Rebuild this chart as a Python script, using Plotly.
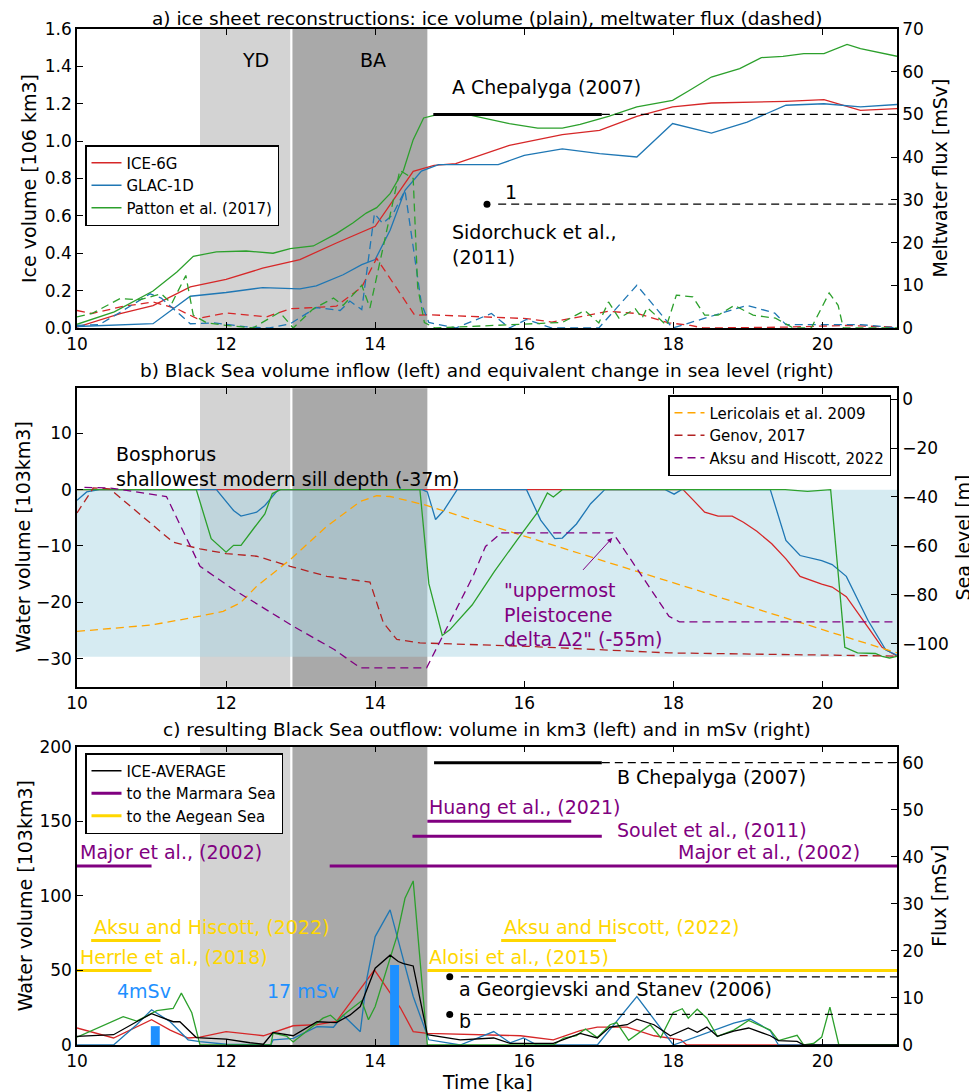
import plotly.graph_objects as go

# ---------------- DATA ----------------
# Panel a: ice volume (10^6 km3, left axis)
ice6g_vol_x = [10.0, 10.58, 11.02, 11.52, 12.0, 12.49, 12.99, 13.48, 14.0, 14.51, 14.79, 15.08, 15.8, 16.51, 17.01, 17.51, 17.99, 18.51, 19.51, 20.02, 20.51, 21.0]
ice6g_vol = [0.005, 0.077, 0.12, 0.22, 0.26, 0.32, 0.366, 0.455, 0.544, 0.838, 0.87, 0.88, 0.977, 1.035, 1.058, 1.133, 1.183, 1.204, 1.213, 1.222, 1.165, 1.174]
glac_vol_x = [10.0, 11.02, 11.52, 12.0, 12.49, 12.99, 13.21, 13.57, 13.82, 14.0, 14.2, 14.4, 14.62, 14.85, 15.08, 15.65, 16.0, 16.51, 17.01, 17.51, 17.99, 18.51, 18.99, 19.51, 20.02, 20.51, 21.0]
glac_vol = [0.008, 0.023, 0.17, 0.19, 0.216, 0.209, 0.225, 0.285, 0.339, 0.366, 0.523, 0.737, 0.84, 0.874, 0.874, 0.874, 0.924, 0.958, 0.933, 0.915, 1.094, 1.043, 1.102, 1.192, 1.2, 1.183, 1.196]
patton_vol_x = [10.0, 10.5, 11.02, 11.34, 11.56, 11.87, 12.27, 12.63, 12.86, 13.17, 13.48, 13.7, 13.88, 14.02, 14.2, 14.38, 14.51, 14.65, 14.79, 14.92, 15.18, 15.56, 15.8, 16.18, 16.51, 16.75, 17.13, 17.51, 17.99, 18.23, 18.51, 18.89, 19.18, 19.47, 19.75, 20.02, 20.33, 20.51, 21.0]
patton_vol = [0.02, 0.086, 0.198, 0.3, 0.384, 0.407, 0.412, 0.40, 0.425, 0.439, 0.505, 0.562, 0.615, 0.644, 0.719, 0.844, 1.008, 1.124, 1.138, 1.147, 1.147, 1.117, 1.094, 1.07, 1.07, 1.09, 1.133, 1.183, 1.218, 1.275, 1.343, 1.388, 1.447, 1.454, 1.468, 1.468, 1.518, 1.495, 1.454]

# Panel a: meltwater flux (mSv, right axis)
ice6g_flux_x = [10.0, 10.2, 10.6, 11.02, 11.34, 11.61, 12.0, 12.54, 12.86, 13.48, 13.82, 14.02, 14.53, 14.7, 16.03, 16.37, 17.13, 17.51, 17.94, 18.23, 18.4, 19.5, 20.33, 21.0]
ice6g_flux = [4.1, 3.4, 5.0, 6.1, 4.5, 2.2, 3.5, 2.6, 4.5, 5.1, 9.6, 16.3, 3.0, 3.1, 2.2, 1.4, 3.9, 3.4, 1.2, 0.6, 0.0, 0.2, 0.6, 0.2]
glac_flux_x = [10.0, 10.3, 10.58, 10.98, 11.13, 11.52, 11.84, 12.25, 12.58, 12.86, 13.21, 13.53, 13.66, 13.82, 13.99, 14.1, 14.23, 14.4, 14.62, 14.72, 15.08, 15.56, 15.8, 16.03, 16.37, 17.0, 17.51, 17.99, 18.99, 19.36, 19.51, 20.51, 21.0]
glac_flux = [0.6, 0.8, 3.7, 8.0, 7.0, 1.0, 1.2, 0.3, 0.0, 1.0, 4.8, 4.1, 6.3, 4.3, 26.8, 24.5, 26.4, 32.2, 5.7, 1.3, 0.0, 3.4, 0.0, 2.0, 0.0, 0.0, 10.0, 0.0, 5.3, 3.5, 0.8, 0.8, 0.0]
patton_flux_x = [10.0, 10.2, 10.58, 10.84, 11.13, 11.27, 11.46, 11.56, 11.74, 12.0, 12.36, 12.72, 12.9, 13.17, 13.44, 13.57, 13.82, 13.93, 14.33, 14.51, 14.57, 14.66, 14.8, 16.51, 16.81, 17.0, 17.13, 17.27, 17.49, 17.58, 17.65, 17.91, 18.04, 18.26, 18.42, 18.6, 18.82, 19.07, 19.37, 19.61, 19.85, 20.09, 20.21, 20.28, 21.0]
patton_flux = [2.6, 3.4, 6.9, 6.6, 8.0, 5.7, 12.3, 3.0, 1.2, 0.6, 0.0, 3.7, 0.0, 4.5, 7.0, 5.3, 10.0, 4.7, 36.9, 35.0, 9.6, 1.3, 0.0, 1.3, 4.1, 1.2, 6.1, 2.3, 4.5, 2.3, 4.8, 0.6, 7.7, 7.3, 3.0, 3.0, 5.3, 3.0, 2.3, 0.0, 0.0, 8.2, 5.3, 0.0, 0.0]

# Panel a reference lines (mSv)
chep_a_level = 50.0
chep_a_solid_x = [14.78, 17.04]
chep_a_dash_x = [17.04, 21.0]
sidor_level = 29.0
sidor_point_x = [15.5]
sidor_dash_x = [15.65, 21.0]

# Panel b: inflow volume (10^3 km3, left axis)
ice6g_b_x = [10.0, 18.13, 18.27, 18.42, 18.6, 18.79, 18.94, 19.12, 19.32, 19.51, 19.7, 19.99, 20.13, 20.32, 20.61, 20.8, 21.0]
ice6g_b = [0, 0, -1.9, -4.0, -4.7, -4.7, -5.8, -7.4, -9.6, -12.3, -15.4, -16.8, -17.3, -19.0, -24.4, -28.0, -29.6]
glac_b_x = [10.0, 10.13, 10.3, 11.87, 12.1, 12.2, 12.41, 12.52, 12.7, 14.63, 14.7, 14.81, 14.92, 15.1, 16.03, 16.22, 16.41, 16.51, 16.7, 16.89, 17.08, 17.89, 18.01, 18.11, 19.3, 19.51, 19.7, 19.99, 20.13, 20.32, 20.61, 20.85, 21.0]
glac_b = [-1.9, -0.4, 0, 0, -3.7, -4.7, -4.0, -2.8, 0, 0, -0.4, -5.3, -3.7, 0, 0, -5.4, -8.7, -8.6, -6.1, -2.5, 0, 0, -0.8, 0, 0, -9.0, -11.7, -12.6, -13.3, -15.4, -23.2, -28.5, -29.4]
patton_b_x = [10.0, 11.6, 11.8, 12.0, 12.1, 12.2, 12.37, 12.52, 12.62, 12.73, 14.6, 14.72, 14.9, 15.0, 15.3, 15.6, 15.9, 16.18, 16.31, 16.39, 16.51, 19.5, 19.8, 20.11, 20.3, 20.47, 20.71, 20.8, 20.9, 21.0]
patton_b = [0, 0, -8.7, -11.1, -9.9, -9.9, -6.9, -4.3, -0.7, 0, 0, -16.7, -25.9, -24.9, -20.5, -14.5, -9.0, -4.0, -0.6, -1.3, 0, 0, -0.3, 0, -28.0, -29.0, -29.1, -29.6, -29.9, -29.6]

# Panel b: sea level reconstructions (m, right axis)
leric_x = [10.0, 11.0, 11.65, 11.96, 12.19, 12.41, 12.86, 13.35, 13.8, 14.02, 14.2, 14.65, 15.5, 16.5, 17.5, 18.5, 19.5, 20.5, 21.0]
leric = [-94.9, -92.3, -88.7, -86.7, -83.3, -76.5, -65.6, -52.0, -41.8, -39.5, -39.8, -43.1, -51.2, -60.8, -70.3, -79.9, -89.4, -99.0, -103.7]
genov_x = [10.0, 10.22, 10.44, 11.29, 11.65, 12.0, 12.41, 12.86, 13.35, 13.93, 14.11, 14.29, 14.6, 15.57, 16.03, 17.94, 21.0]
genov = [-46.5, -36.3, -36.7, -58.5, -61.2, -63.1, -64.2, -68.3, -72.4, -74.8, -91.4, -98.2, -99.6, -100.7, -101.0, -103.7, -105.0]
aksu_x = [10.1, 10.44, 11.2, 11.65, 12.1, 12.9, 13.45, 13.8, 14.69, 14.79, 15.32, 15.48, 15.69, 17.19, 17.94, 18.08, 21.0]
aksu = [-36.1, -36.3, -39.8, -68.3, -77.8, -92.8, -102.3, -109.8, -109.8, -103.8, -71.9, -60.2, -54.7, -54.7, -88.7, -91.0, -91.0]
basin_top = 0.0
basin_bottom = -29.7

# Panel c: outflow volume (10^3 km3, left axis)
red_c_x = [10.0, 10.49, 11.0, 11.25, 11.49, 11.65, 12.0, 12.5, 12.9, 13.22, 13.48, 13.99, 14.34, 14.51, 14.7, 15.95, 16.39, 16.75, 16.98, 17.38, 17.74, 18.1, 18.18, 21.0]
red_c = [11.4, 4.7, 17, 10, 4.7, 5.3, 9, 6.2, 12.9, 13.6, 15.8, 50.4, 24.8, 9, 7.8, 6.2, 3.5, 9.6, 12, 12, 6.2, 3.5, 0, 0]
blue_c_x = [10.0, 10.49, 10.8, 11.0, 11.25, 11.49, 11.65, 12.0, 12.6, 12.63, 12.9, 13.22, 13.44, 13.57, 13.8, 13.89, 14.0, 14.2, 14.51, 14.72, 15.14, 15.59, 15.81, 15.99, 16.17, 16.98, 17.51, 18.0, 18.81, 19.03, 19.3, 19.41, 21.0]
blue_c = [0, 0, 13.6, 23.6, 15.6, 3.5, 2.3, 0.5, 0, 3.4, 4.5, 12.3, 11.9, 20, 8.9, 45, 72.7, 90.6, 32.5, 3.5, 0, 9, 1.5, 4.7, 0, 0, 32.5, 0, 14.7, 17.4, 9.6, 0, 0]
green_c_x = [10.0, 10.62, 10.8, 11.07, 11.29, 11.4, 11.54, 11.65, 12.6, 12.63, 12.81, 12.9, 13.3, 13.4, 13.49, 13.62, 13.82, 13.91, 14.0, 14.29, 14.4, 14.51, 14.7, 16.39, 16.53, 16.7, 16.82, 16.98, 17.15, 17.24, 17.4, 17.69, 17.83, 18.0, 18.12, 18.2, 18.32, 18.45, 18.59, 18.81, 19.01, 19.3, 19.41, 19.66, 19.75, 19.88, 19.99, 20.1, 20.22, 21.0]
green_c = [5.3, 19, 16, 23, 24.5, 34.8, 21.6, 0, 0, 8, 6, 2, 18, 20, 16, 22, 29.6, 16.9, 25.8, 72.7, 98.4, 110, 0, 0, 4.7, 6.3, 10.7, 5, 13.6, 15, 3.1, 13.6, 5, 21.8, 24.3, 18, 24, 18, 5.8, 10, 16.5, 10, 3, 6.5, 0, 1, 5.3, 25.4, 0, 0]
avg_c_x = [10.0, 10.49, 10.8, 11.0, 11.29, 11.38, 11.6, 12.0, 12.32, 12.5, 12.63, 12.9, 13.22, 13.48, 13.66, 13.8, 14.0, 14.2, 14.31, 14.38, 14.51, 14.7, 15.14, 15.59, 15.81, 16.39, 16.75, 16.98, 17.15, 17.38, 17.51, 17.74, 17.96, 18.2, 18.32, 18.45, 18.59, 18.81, 19.01, 19.3, 19.41, 19.66, 19.75, 21.0]
avg_c = [5.8, 6.9, 15.6, 21, 15.6, 15.6, 5, 4, 1.5, 0.5, 8.4, 6.2, 15.6, 15, 20, 25.8, 51.5, 60.2, 56, 54.6, 53, 7, 3.5, 4.7, 1.1, 1.1, 7.8, 4.7, 12, 13.6, 17.3, 13.6, 6.2, 11.4, 8.5, 12, 5.8, 9.3, 11.4, 6.2, 3, 2.4, 0, 0]

# Panel c: published outflow estimates (10^3 km3)
marmara_names = ["Major et al., (2002)", "Major et al., (2002)", "Huang et al., (2021)", "Soulet et al., (2011)"]
marmara_x0 = [10.0, 13.39, 14.7, 14.5]
marmara_x1 = [11.0, 21.0, 16.63, 17.04]
marmara_level = [120, 120, 150, 140]
aegean_names = ["Herrle et al., (2018)", "Aksu and Hiscott, (2022)", "Aksu and Hiscott, (2022)", "Aloisi et al., (2015)"]
aegean_x0 = [10.0, 10.19, 15.69, 14.7]
aegean_x1 = [11.0, 11.12, 17.23, 21.0]
aegean_level = [50, 70, 70, 50]

# Panel c: flux references (mSv, right axis)
chep_c_level = 60.0
chep_c_solid_x = [14.79, 17.04]
chep_c_dash_x = [17.04, 21.0]
georg_levels = [14.5, 6.5]
georg_point_x = [15.0, 15.0]
georg_dash_x = [15.15, 21.0]
pulse_x = [11.05, 14.26]
pulse_msv = [4, 17]

# Climate periods
yd_span = [11.65, 12.86]
ba_span = [12.89, 14.7]

# ---------------- STYLE ----------------
RED = "#d62728"
BLUE = "#1f77b4"
GREEN = "#2ca02c"
PURPLE = "#800080"
GOLD = "#ffd700"
FONT = "DejaVu Sans"
FS_TICK = 17
FS_TEXT = 19
FS_TITLE = 18.5
FS_LEG = 15
DASH = "8px,5px"

fig = go.Figure()

def line(x, y, xa, ya, color, width=1.3, dash=None, name=None, legend=None, show=False):
    fig.add_trace(go.Scatter(x=x, y=y, xaxis=xa, yaxis=ya, mode="lines",
                             line=dict(color=color, width=width, dash=dash),
                             name=name, showlegend=show, legend=legend, hoverinfo="skip"))

# Panel a
line(ice6g_vol_x, ice6g_vol, "x", "y", RED, name="ICE-6G", legend="legend", show=True)
line(glac_vol_x, glac_vol, "x", "y", BLUE, name="GLAC-1D", legend="legend", show=True)
line(patton_vol_x, patton_vol, "x", "y", GREEN, name="Patton et al. (2017)", legend="legend", show=True)
line(ice6g_flux_x, ice6g_flux, "x", "y2", RED, dash=DASH)
line(glac_flux_x, glac_flux, "x", "y2", BLUE, dash=DASH)
line(patton_flux_x, patton_flux, "x", "y2", GREEN, dash=DASH)
line(chep_a_solid_x, [chep_a_level] * 2, "x", "y2", "black", width=3)
line(chep_a_dash_x, [chep_a_level] * 2, "x", "y2", "black", dash=DASH)
line(sidor_dash_x, [sidor_level] * 2, "x", "y2", "black", dash=DASH)
fig.add_trace(go.Scatter(x=sidor_point_x, y=[sidor_level], xaxis="x", yaxis="y2", mode="markers",
                         marker=dict(color="black", size=7), showlegend=False, hoverinfo="skip"))

# Panel b
line(ice6g_b_x, ice6g_b, "x2", "y3", RED)
line(glac_b_x, glac_b, "x2", "y3", BLUE)
line(patton_b_x, patton_b, "x2", "y3", GREEN)
line(leric_x, leric, "x2", "y4", "orange", dash=DASH, name="Lericolais et al. 2009", legend="legend2", show=True)
line(genov_x, genov, "x2", "y4", "#b22222", dash=DASH, name="Genov, 2017", legend="legend2", show=True)
line(aksu_x, aksu, "x2", "y4", PURPLE, dash=DASH, name="Aksu and Hiscott, 2022", legend="legend2", show=True)

# Panel c
fig.add_trace(go.Bar(x=pulse_x, y=pulse_msv, xaxis="x3", yaxis="y6", width=0.12,
                     marker=dict(color="#1e90ff", line=dict(width=0)), showlegend=False, hoverinfo="skip"))
line(red_c_x, red_c, "x3", "y5", RED)
line(blue_c_x, blue_c, "x3", "y5", BLUE)
line(green_c_x, green_c, "x3", "y5", GREEN)
line(avg_c_x, avg_c, "x3", "y5", "black", name="ICE-AVERAGE", legend="legend3", show=True)
for i in range(len(marmara_level)):
    line([marmara_x0[i], marmara_x1[i]], [marmara_level[i]] * 2, "x3", "y5", PURPLE, width=3,
         name="to the Marmara Sea", legend="legend3", show=(i == 0))
for i in range(len(aegean_level)):
    line([aegean_x0[i], aegean_x1[i]], [aegean_level[i]] * 2, "x3", "y5", GOLD, width=3,
         name="to the Aegean Sea", legend="legend3", show=(i == 0))
line(chep_c_solid_x, [chep_c_level] * 2, "x3", "y6", "black", width=3)
line(chep_c_dash_x, [chep_c_level] * 2, "x3", "y6", "black", dash=DASH)
for lv in georg_levels:
    line(georg_dash_x, [lv] * 2, "x3", "y6", "black", dash=DASH)
fig.add_trace(go.Scatter(x=georg_point_x, y=georg_levels, xaxis="x3", yaxis="y6", mode="markers",
                         marker=dict(color="black", size=7), showlegend=False, hoverinfo="skip"))

# ---------------- SHAPES ----------------
shapes = []
for xa, ya in [("x", "y"), ("x2", "y3"), ("x3", "y5")]:
    shapes.append(dict(type="rect", xref=xa, yref=ya + " domain", x0=yd_span[0], x1=yd_span[1], y0=0, y1=1,
                       fillcolor="#d3d3d3", line=dict(width=0), layer="below"))
    shapes.append(dict(type="rect", xref=xa, yref=ya + " domain", x0=ba_span[0], x1=ba_span[1], y0=0, y1=1,
                       fillcolor="#a9a9a9", line=dict(width=0), layer="below"))
shapes.append(dict(type="rect", xref="x2", yref="y3", x0=10, x1=21, y0=basin_bottom, y1=basin_top,
                   fillcolor="#add8e6", opacity=0.5, line=dict(width=0), layer="below"))

# ---------------- AXES ----------------
# the page body adds an 8px offset; plot area in screen pixels: x 77..897, y 29..1045
OFF = 8
W, H = 977, 1092
PX0, PX1, PY0, PY1 = 77, 897, 29, 1045
PW, PH = PX1 - PX0, PY1 - PY0
L, T = PX0 - OFF, PY0 - OFF
R, B = W - L - PW, H - T - PH

def px_x(p):
    return (p - PX0) / PW

def px_y(p):
    return 1 - (p - PY0) / PH

def ydom(top_px, bot_px):
    return [px_y(bot_px), px_y(top_px)]

dom_a = ydom(29, 328)
dom_b = ydom(388.3, 686.7)
dom_c = ydom(746.7, 1045)
tickfont = dict(family=FONT, size=FS_TICK, color="black")

def xax(anchor):
    return dict(domain=[0, 1], anchor=anchor, range=[10, 21], tickvals=[10, 12, 14, 16, 18, 20],
                ticks="inside", ticklen=6, tickcolor="black", showline=True, linecolor="black", linewidth=1.5,
                mirror="ticks", showgrid=False, zeroline=False, tickfont=tickfont, automargin=False)

def yax(domain, rng, tickvals, anchor, side="left", overlaying=None, fmt=None):
    d = dict(range=rng, tickvals=tickvals, ticks="inside", ticklen=6, tickcolor="black", showline=True,
             linecolor="black", linewidth=1.5, showgrid=False, zeroline=False, tickfont=tickfont,
             anchor=anchor, side=side, automargin=False)
    if overlaying:
        d["overlaying"] = overlaying
    else:
        d["domain"] = domain
    if fmt:
        d["tickformat"] = fmt
    return d

legstyle = dict(xanchor="left", yanchor="top", bgcolor="white", bordercolor="black", borderwidth=1.5,
                font=dict(family=FONT, size=FS_LEG, color="black"), itemwidth=30, tracegroupgap=0)

fig.update_layout(
    width=W, height=H,
    margin=dict(l=L, r=R, t=T, b=B),
    paper_bgcolor="white", plot_bgcolor="white",
    font=dict(family=FONT, size=FS_TICK, color="black"),
    barmode="overlay",
    xaxis=xax("y"),
    xaxis2=xax("y3"),
    xaxis3=xax("y5"),
    yaxis=yax(dom_a, [0, 1.6], [0, 0.2, 0.4, 0.6, 0.8, 1.0, 1.2, 1.4, 1.6], "x", fmt=".1f"),
    yaxis2=yax(None, [0, 70], [0, 10, 20, 30, 40, 50, 60, 70], "x", side="right", overlaying="y"),
    yaxis3=yax(dom_b, [-35, 18], [-30, -20, -10, 0, 10], "x2"),
    yaxis4=yax(None, [-117.5, 4.4], [-100, -80, -60, -40, -20, 0], "x2", side="right", overlaying="y3"),
    yaxis5=yax(dom_c, [0, 200], [0, 50, 100, 150, 200], "x3"),
    yaxis6=yax(None, [0, 63.4], [0, 10, 20, 30, 40, 50, 60], "x3", side="right", overlaying="y5"),
    shapes=shapes,
    legend=dict(x=px_x(85), y=px_y(145), **legstyle),
    legend2=dict(x=px_x(668), y=px_y(395), **legstyle),
    legend3=dict(x=px_x(85), y=px_y(753), **legstyle),
)

# ---------------- ANNOTATIONS ----------------
ann = []
def text(x, y, s, xref, yref, color="black", size=FS_TEXT, xanchor="left", yanchor="middle", align="left"):
    ann.append(dict(x=x, y=y, xref=xref, yref=yref, text=s, showarrow=False, xanchor=xanchor,
                    yanchor=yanchor, align=align, font=dict(family=FONT, size=size, color=color)))

# titles (panel a title kept just inside the page top)
ann.append(dict(x=0.5, y=px_y(6), xref="paper", yref="paper",
                text="a) ice sheet reconstructions: ice volume (plain), meltwater flux (dashed)",
                showarrow=False, xanchor="center", yanchor="top",
                font=dict(family=FONT, size=FS_TITLE, color="black")))
for dom, t in [(dom_b, "b) Black Sea volume inflow (left) and equivalent change in sea level (right)"),
               (dom_c, "c) resulting Black Sea outflow: volume in km3 (left) and in mSv (right)")]:
    ann.append(dict(x=0.5, y=dom[1], xref="paper", yref="paper", text=t, showarrow=False, xanchor="center",
                    yanchor="bottom", yshift=5, font=dict(family=FONT, size=FS_TITLE, color="black")))

# axis titles
for xp, dom, t in [(29.5, dom_a, "Ice volume [106 km3]"), (940, dom_a, "Meltwater flux [mSv]"),
                   (22, dom_b, "Water volume [103km3]"), (962, dom_b, "Sea level [m]"),
                   (24.5, dom_c, "Water volume [103km3]"), (939, dom_c, "Flux [mSv]")]:
    ann.append(dict(x=px_x(xp), y=(dom[0] + dom[1]) / 2, xref="paper", yref="paper", text=t, showarrow=False,
                    textangle=-90, xanchor="center", yanchor="middle",
                    font=dict(family=FONT, size=FS_TEXT, color="black")))
ann.append(dict(x=0.5, y=px_y(1082), xref="paper", yref="paper", text="Time [ka]", showarrow=False,
                xanchor="center", yanchor="middle", font=dict(family=FONT, size=FS_TEXT, color="black")))

# panel a
text(12.39, 1.432, "YD", "x", "y", xanchor="center")
text(13.97, 1.432, "BA", "x", "y", xanchor="center")
text(15.0, 56.4, "A Chepalyga (2007)", "x", "y2")
text(15.72, 31.8, "1", "x", "y2")
text(15.0, 19.6, "Sidorchuck et al.,<br>(2011)", "x", "y2")

# panel b
text(10.5, 4.1, "Bosphorus<br>shallowest modern sill depth (-37m)", "x2", "y3")
text(15.7, -88.0, "\"uppermost<br>Pleistocene<br>delta \u03942\" (-55m)", "x2", "y4", color=PURPLE)
ann.append(dict(x=17.18, y=-56.7, ax=16.77, ay=-70.4, xref="x2", yref="y4", axref="x2", ayref="y4",
                text="", showarrow=True, arrowhead=2, arrowsize=1, arrowwidth=1, arrowcolor=PURPLE))

# panel c
text(10.01, 129.6, "Major et al., (2002)", "x3", "y5", color=PURPLE)
text(18.03, 129.6, "Major et al., (2002)", "x3", "y5", color=PURPLE)
text(14.7, 159.3, "Huang et al., (2021)", "x3", "y5", color=PURPLE)
text(17.22, 144.1, "Soulet et al., (2011)", "x3", "y5", color=PURPLE)
text(17.22, 179.6, "B Chepalyga (2007)", "x3", "y5")
text(10.2, 79.0, "Aksu and Hiscott, (2022)", "x3", "y5", color=GOLD)
text(15.7, 79.0, "Aksu and Hiscott, (2022)", "x3", "y5", color=GOLD)
text(10.01, 59.3, "Herrle et al., (2018)", "x3", "y5", color=GOLD)
text(14.7, 59.3, "Aloisi et al., (2015)", "x3", "y5", color=GOLD)
text(15.1, 37.5, "a Georgievski and Stanev (2006)", "x3", "y5")
text(15.1, 15.8, "b", "x3", "y5")
text(10.51, 35.9, "4mSv", "x3", "y5", color="#1e90ff")
text(12.52, 35.9, "17 mSv", "x3", "y5", color="#1e90ff")

fig.update_layout(annotations=ann)

fig.write_html("out.html")
